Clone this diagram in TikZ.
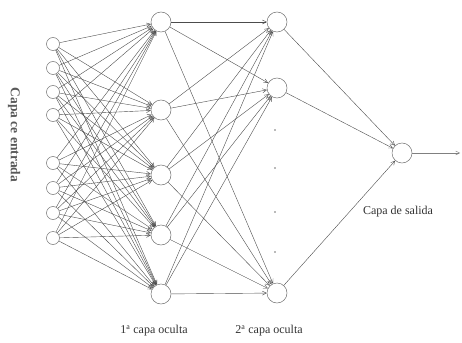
\documentclass[tikz,border=0pt]{standalone}
\usepackage{fontspec}
\setmainfont{Liberation Serif}
\usetikzlibrary{arrows.meta}
\begin{document}
\begin{tikzpicture}[x=1pt,y=-1pt,
  inode/.style={circle,draw=black!55,line width=0.5pt,minimum size=13pt,inner sep=0pt},
  hnode/.style={circle,draw=black!55,line width=0.5pt,minimum size=20pt,inner sep=0pt},
  conn/.style={draw=black!70,line width=0.4pt,-{Straight Barb[length=4pt,width=4pt]}},
  lbl/.style={font=\fontsize{12}{14}\selectfont,text=black!80},
  dotp/.style={circle,fill=black!55,inner sep=0pt,minimum size=1.8pt}]
\useasboundingbox (0,0) rectangle (462,342);
% input layer
\foreach \i/\y in {1/44,2/68,3/92,4/115,5/163,6/188,7/213,8/238}
  \node[inode] (i\i) at (53,\y) {};
% hidden 1
\foreach \j/\y in {1/22,2/110,3/175,4/235,5/294}
  \node[hnode] (h\j) at (161,\y) {};
% hidden 2
\foreach \k/\y in {1/22,2/88,3/293}
  \node[hnode] (g\k) at (277,\y) {};
\foreach \d/\y in {1/130,2/168,3/212,4/252}
  \node[dotp] (d\d) at (275,\y) {};
% output
\node[hnode] (o) at (402,153) {};
\coordinate (out) at (460,153);
% connections
\foreach \i in {1,...,8}
  \foreach \j in {1,...,5}
    \draw[conn] (i\i) -- (h\j);
\foreach \j in {1,...,5}
  \foreach \k in {1,2,3}
    \draw[conn] (h\j) -- (g\k);
\foreach \k in {1,2,3}
  \draw[conn] (g\k) -- (o);
\draw[conn,draw=black!50] (o) -- (out);
% labels
\node[lbl,font=\fontsize{13.5}{15}\selectfont\bfseries,text=black!65,rotate=-90] (lin) at (14,135) {Capa ce entrada};
\node[lbl] (lh1) at (154,331) {1\textsuperscript{a} capa oculta};
\node[lbl] (lh2) at (269,331) {2\textsuperscript{a} capa oculta};
\node[lbl] (lout) at (398,212) {Capa de salida};
\end{tikzpicture}
\end{document}
